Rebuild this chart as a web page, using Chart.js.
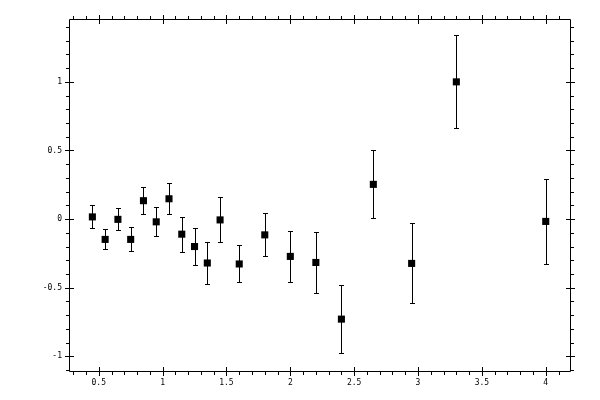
<!DOCTYPE html>
<html>
<head>
<meta charset="utf-8">
<script src="https://cdn.jsdelivr.net/npm/chart.js@4/dist/chart.umd.min.js"></script>
<style>
html,body{margin:0;padding:0;background:#fff;}
#c{display:block;}
</style>
</head>
<body>
<canvas id="c" width="600" height="400"></canvas>
<script>
// ---- data ----
const xValues = [0.45,0.55,0.65,0.75,0.85,0.95,1.05,1.15,1.25,1.35,1.45,1.6,1.8,2.0,2.2,2.4,2.65,2.95,3.3,4.0];
const yValues = [0.016,-0.148,-0.002,-0.148,0.134,-0.02,0.148,-0.11,-0.2,-0.32,-0.006,-0.327,-0.115,-0.272,-0.316,-0.729,0.253,-0.323,1.0,-0.017];
const yErrors = [0.084,0.073,0.08,0.087,0.098,0.105,0.112,0.127,0.138,0.15,0.164,0.135,0.157,0.186,0.219,0.25,0.248,0.292,0.338,0.31];

const xMajorTicks = [0.5,1,1.5,2,2.5,3,3.5,4];
const xMinorTicks = [0.3,0.4,0.6,0.7,0.8,0.9,1.1,1.2,1.3,1.4,1.6,1.7,1.8,1.9,2.1,2.2,2.3,2.4,2.6,2.7,2.8,2.9,3.1,3.2,3.3,3.4,3.6,3.7,3.8,3.9,4.1];
const yMajorTicks = [-1,-0.5,0,0.5,1];
const yMinorTicks = [-1.1,-0.9,-0.8,-0.7,-0.6,-0.4,-0.3,-0.2,-0.1,0.1,0.2,0.3,0.4,0.6,0.7,0.8,0.9,1.1,1.2,1.3,1.4];
const xRange = [0.267, 4.19];
const yRange = [-1.107, 1.458];

const points = xValues.map((x,i)=>({x:x, y:yValues[i]}));

const errorBarPlugin = {
  id: 'errorBars',
  beforeDatasetsDraw(chart){
    const ctx = chart.ctx, xs = chart.scales.x, ys = chart.scales.y;
    ctx.save();
    ctx.strokeStyle = '#000';
    ctx.lineWidth = 1;
    ctx.beginPath();
    xValues.forEach((x,i)=>{
      const px = Math.round(xs.getPixelForValue(x)) + 0.5;
      const top = Math.round(ys.getPixelForValue(yValues[i] + yErrors[i])) + 0.5;
      const bot = Math.round(ys.getPixelForValue(yValues[i] - yErrors[i])) + 0.5;
      ctx.moveTo(px, top); ctx.lineTo(px, bot);
      ctx.moveTo(px-2.5, top); ctx.lineTo(px+2.5, top);
      ctx.moveTo(px-2.5, bot); ctx.lineTo(px+2.5, bot);
    });
    ctx.stroke();
    ctx.restore();
  }
};

const framePlugin = {
  id: 'frameTicks',
  afterDraw(chart){
    const ctx = chart.ctx, xs = chart.scales.x, ys = chart.scales.y, a = chart.chartArea;
    const L = Math.round(a.left)+0.5, R = Math.round(a.right)+0.5, T = Math.round(a.top)+0.5, B = Math.round(a.bottom)+0.5;
    ctx.save();
    ctx.strokeStyle = '#000';
    ctx.lineWidth = 1;
    ctx.beginPath();
    ctx.rect(L, T, R-L, B-T);
    const maj = 4.5, mn = 3.5;
    xMajorTicks.forEach(v=>{
      const p = Math.round(xs.getPixelForValue(v))+0.5;
      ctx.moveTo(p, B-maj); ctx.lineTo(p, B+maj);
      ctx.moveTo(p, T-maj); ctx.lineTo(p, T+maj);
    });
    xMinorTicks.forEach(v=>{
      const p = Math.round(xs.getPixelForValue(v))+0.5;
      ctx.moveTo(p, B); ctx.lineTo(p, B+mn);
      ctx.moveTo(p, T); ctx.lineTo(p, T-mn);
    });
    yMajorTicks.forEach(v=>{
      const p = Math.round(ys.getPixelForValue(v))+0.5;
      ctx.moveTo(L-maj, p); ctx.lineTo(L+maj, p);
      ctx.moveTo(R-maj, p); ctx.lineTo(R+maj, p);
    });
    yMinorTicks.forEach(v=>{
      const p = Math.round(ys.getPixelForValue(v))+0.5;
      ctx.moveTo(L, p); ctx.lineTo(L-mn, p);
      ctx.moveTo(R, p); ctx.lineTo(R+mn, p);
    });
    ctx.stroke();
    ctx.restore();
  }
};

const tickFont = {family: '"DejaVu Sans Mono", monospace', size: 8};

new Chart(document.getElementById('c'), {
  type: 'scatter',
  data: {
    datasets: [{
      data: points,
      pointStyle: 'rect',
      pointRadius: 5,
      pointHoverRadius: 5,
      pointBackgroundColor: '#000',
      pointBorderColor: '#000',
      pointBorderWidth: 0,
      showLine: false
    }]
  },
  options: {
    responsive: false,
    animation: false,
    devicePixelRatio: 1,
    layout: {padding: {top: 19, right: 30, left: 0, bottom: 0}},
    plugins: {legend: {display: false}, tooltip: {enabled: false}},
    scales: {
      x: {
        type: 'linear', position: 'bottom',
        min: xRange[0], max: xRange[1],
        grid: {display: false, drawTicks: false},
        border: {display: false},
        afterBuildTicks: s => { s.ticks = xMajorTicks.map(v=>({value:v})); },
        afterFit: s => { s.height = 29; },
        ticks: {color: '#000', font: tickFont, padding: 7, maxRotation: 0, autoSkip: false, callback: v => String(v)}
      },
      y: {
        type: 'linear', position: 'left',
        min: yRange[0], max: yRange[1],
        grid: {display: false, drawTicks: false},
        border: {display: false},
        afterBuildTicks: s => { s.ticks = yMajorTicks.map(v=>({value:v})); },
        afterFit: s => { s.width = 69; },
        ticks: {color: '#000', font: tickFont, padding: 7, autoSkip: false, callback: v => String(v)}
      }
    }
  },
  plugins: [errorBarPlugin, framePlugin]
});
</script>
</body>
</html>
